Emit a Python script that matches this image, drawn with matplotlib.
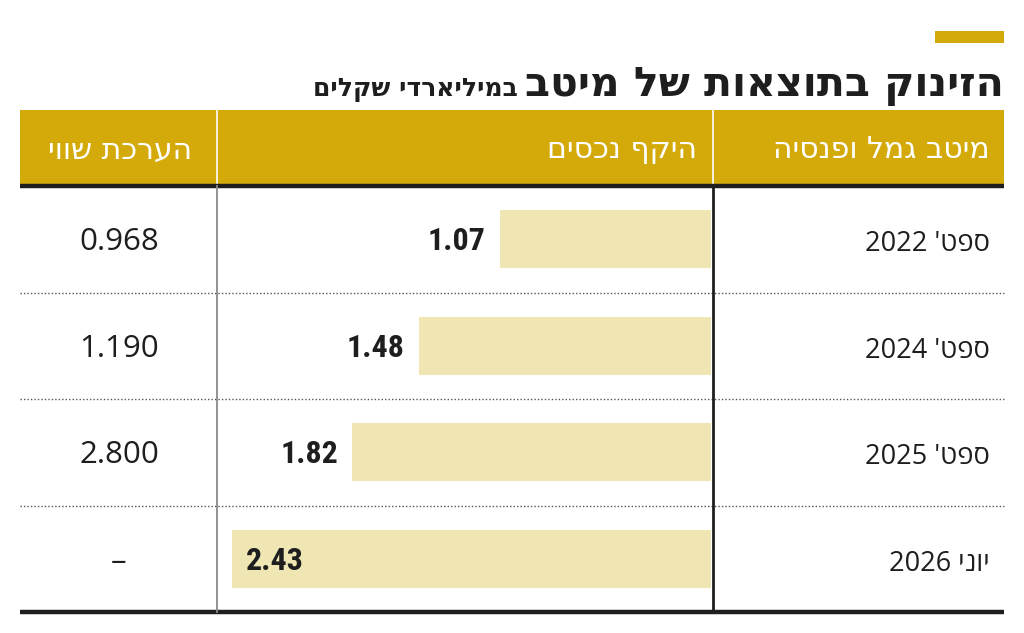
import numpy as np
import matplotlib
matplotlib.use('Agg')
import matplotlib.pyplot as plt

#############################
# Data
#############################
title_main = 'הזינוק בתוצאות של מיטב'
title_sub = 'במיליארדי שקלים'
col_headers = ['מיטב גמל ופנסיה', 'היקף נכסים', 'הערכת שווי']
periods = ["ספט' 2022", "ספט' 2024", "ספט' 2025", 'יוני 2026']
assets = [1.07, 1.48, 1.82, 2.43]
valuation = ['0.968', '1.190', '2.800', '–']

GOLD = '#D4AA0B'
BAR = '#EFE6B4'
INK = '#1e1e1e'
HEB = ['DejaVu Sans']
BODY = ['Open Sans', 'DejaVu Sans']
NUM = ['Roboto Condensed', 'Liberation Sans Narrow', 'DejaVu Sans']


def vis(s):
    # matplotlib has no bidi: put right-to-left text into visual order
    toks = s.split(' ')
    out = []
    for t in reversed(toks):
        if any('\u0590' <= c <= '\u05ff' for c in t):
            out.append(t[::-1])
        else:
            out.append(t)
    return ' '.join(out)


W, H = 1024, 633
fig = plt.figure(figsize=(W/100, H/100), dpi=100)
ax = fig.add_axes([0, 0, 1, 1])
ax.set_xlim(0, W)
ax.set_ylim(H, 0)
ax.axis('off')

# table geometry in pixels
x_left, x_right = 20, 1004
x_mid1, x_mid2 = 217, 713
y_head0, y_head1 = 110, 186
y_bot = 612
n = len(periods)
row_h = (y_bot - y_head1)/n

#############################
# Title
#############################
ax.add_patch(plt.Rectangle((935, 31), 69, 12, color=GOLD, lw=0))
t_main = ax.text(x_right, 96, vis(title_main), ha='right', va='baseline',
                 fontsize=29.5, fontweight='bold', family=HEB, color=INK)
fig.canvas.draw()
bb = t_main.get_window_extent()
inv = ax.transData.inverted()
left_px = inv.transform((bb.x0, bb.y0))[0]
ax.text(left_px - 7, 96, vis(title_sub), ha='right', va='baseline',
        fontsize=18, fontweight='bold', family=HEB, color=INK)

#############################
# Header
#############################
ax.add_patch(plt.Rectangle((x_left, y_head0), x_right - x_left, y_head1 - y_head0,
                           color=GOLD, lw=0))
for xs in [x_mid1, x_mid2]:
    ax.plot([xs, xs], [y_head0, y_head1], color='white', lw=1.2)
hx = [990, 697, 192]
for x, h in zip(hx, col_headers):
    ax.text(x, (y_head0 + y_head1)/2 + 2, vis(h), ha='right', va='center',
            fontsize=21.5, family=HEB, color='white')

# lines
ax.plot([x_left, x_right], [y_head1, y_head1], color=INK, lw=3.2, solid_capstyle='butt')
ax.plot([x_left, x_right], [y_bot, y_bot], color=INK, lw=3.2, solid_capstyle='butt')
for i in range(1, n):
    y = y_head1 + i*row_h
    ax.plot([x_left, x_right], [y, y], color='#555555', lw=1.0, ls=(0, (1, 1.5)))
ax.plot([x_mid1, x_mid1], [y_head1, y_bot], color='#8a8a8a', lw=1.3)
ax.plot([x_mid2, x_mid2], [y_head1, y_bot], color=INK, lw=2.0)

# row texts
for i in range(n):
    yc = y_head1 + (i + 0.5)*row_h
    ax.text(990, yc + 5, vis(periods[i]), ha='right', va='center',
            fontsize=19.5, family=BODY, color=INK)
    ax.text(119, yc + 3, valuation[i], ha='center', va='center',
            fontsize=22.5, family=BODY, color=INK)

#############################
# Bars
#############################
px_per_unit = 197.0
bx0, bx1 = x_mid1, 711
bax = fig.add_axes([bx0/W, 1 - y_bot/H, (bx1 - bx0)/W, (y_bot - y_head1)/H])
bax.set_xlim((bx1 - bx0)/px_per_unit, 0)
bax.set_ylim(n - 0.5, -0.5)
bax.axis('off')
ypos = np.arange(n)
bax.barh(ypos, assets, height=0.545, color=BAR, lw=0)
xmax = (bx1 - bx0)/px_per_unit
for i, v in enumerate(assets):
    if v > xmax - 0.45:
        bax.annotate(f'{v:.2f}', (v, i), xytext=(9.5, -1.5), textcoords='offset points',
                     ha='left', va='center', fontsize=23, fontweight='bold',
                     family=NUM, color=INK)
    else:
        bax.annotate(f'{v:.2f}', (v, i), xytext=(-10.5, -1.5), textcoords='offset points',
                     ha='right', va='center', fontsize=23, fontweight='bold',
                     family=NUM, color=INK)

fig.savefig('out.png', dpi=100)
